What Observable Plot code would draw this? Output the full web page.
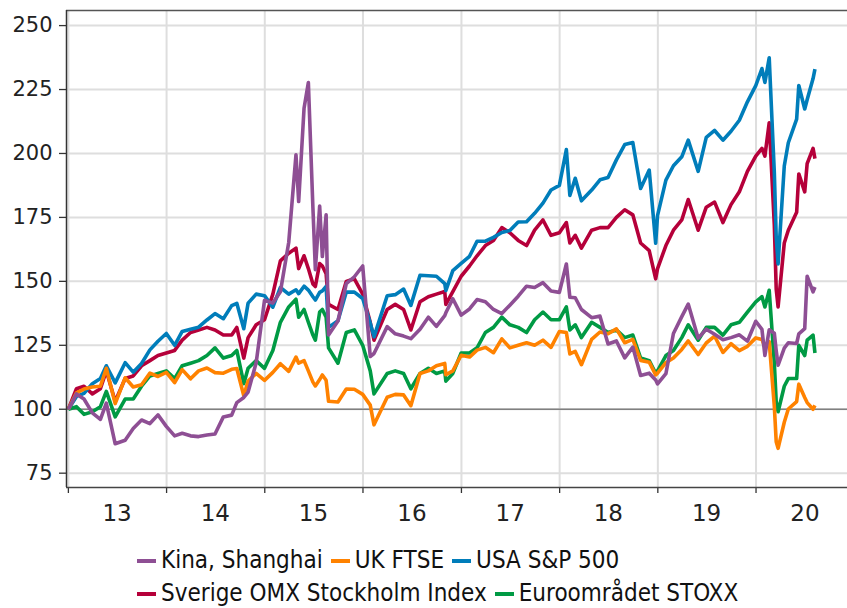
<!DOCTYPE html>
<html><head><meta charset="utf-8">
<script src="https://cdn.jsdelivr.net/npm/d3@7"></script>
<script src="https://cdn.jsdelivr.net/npm/@observablehq/plot@0.6"></script>
<style>
body{margin:0;background:#fff;}
#chart svg{display:block;overflow:visible}
.legend{font-family:"DejaVu Sans Condensed","DejaVu Sans",sans-serif;font-size:24px;line-height:33px;color:#111;padding-left:137px;margin-top:9px}
.row{display:flex;align-items:center;height:33px;white-space:nowrap}
.item{display:flex;align-items:center;margin-right:8px}
.sw{width:19px;height:4px;margin-right:5px}
</style></head><body><div id="chart"></div><div class="legend" id="legend"></div>
<script>
const dates = [
"2013-01-01","2013-01-31","2013-02-28","2013-03-31","2013-04-30","2013-05-22","2013-06-24","2013-07-31","2013-08-30","2013-09-30","2013-10-31","2013-11-30","2013-12-31",
"2014-01-31","2014-02-28","2014-03-31","2014-04-30","2014-05-31","2014-06-30","2014-07-31","2014-08-31","2014-09-19","2014-10-15","2014-10-31","2014-11-30","2014-12-31",
"2015-01-31","2015-02-28","2015-03-31","2015-04-27","2015-05-07","2015-05-27","2015-06-12","2015-06-29","2015-07-08","2015-07-24","2015-08-03","2015-08-17","2015-08-26","2015-09-30","2015-10-31","2015-11-30","2015-12-31",
"2016-01-28","2016-02-11","2016-03-31","2016-04-30","2016-05-31","2016-06-27","2016-07-31","2016-08-31","2016-09-30","2016-10-31","2016-11-04","2016-11-30","2016-12-31",
"2017-01-31","2017-02-28","2017-03-31","2017-04-30","2017-05-31","2017-06-30","2017-07-31","2017-08-31","2017-09-30","2017-10-31","2017-11-30","2017-12-31",
"2018-01-26","2018-02-08","2018-02-28","2018-03-23","2018-04-30","2018-05-31","2018-06-30","2018-07-31","2018-08-31","2018-09-30","2018-10-29","2018-11-30","2018-12-24","2018-12-31",
"2019-01-31","2019-02-28","2019-03-31","2019-04-24","2019-05-31","2019-06-30","2019-07-31","2019-08-31","2019-09-30","2019-10-31","2019-11-30","2019-12-31",
"2020-01-23","2020-02-03","2020-02-19","2020-03-09","2020-03-16","2020-03-23","2020-04-15","2020-04-30","2020-05-31","2020-06-08","2020-06-30","2020-07-09","2020-07-31","2020-08-07"
];
const kina = [
100,106.0,104.0,98.6,96.0,102.4,86.5,87.9,92.5,95.8,94.4,97.8,93.3,
89.6,90.6,89.6,89.3,89.9,90.3,97.0,97.7,102.6,104.6,106.7,118.2,142.6,
141.5,145.9,165.2,199.5,181.2,217.7,227.7,178.6,154.6,179.4,159.7,176.0,129.0,134.5,149.1,151.8,156.0,
120.6,121.8,132.3,129.5,128.6,127.6,131.3,136.0,132.4,136.6,137.7,143.2,136.8,
139.2,142.9,142.0,139.0,137.4,140.7,144.2,148.1,147.6,149.5,146.2,145.7,
156.8,143.8,143.6,139.0,135.8,136.4,125.5,126.7,120.1,124.3,113.2,114.1,111.4,109.9,
113.9,129.6,136.2,141.1,127.8,131.3,129.3,127.2,128.0,129.1,126.6,134.4,
131.2,121.0,131.1,129.7,122.9,117.2,123.9,126.0,125.7,129.5,131.5,152.0,145.9,147.8
];
const uk = [
100,106.4,107.9,108.7,109.0,116.0,102.2,112.3,108.7,109.6,114.1,112.8,114.4,
110.4,115.5,111.9,115.0,116.1,114.3,114.1,115.6,115.9,105.3,111.0,114.0,111.3,
114.4,117.8,114.8,120.4,118.0,119.0,115.0,110.6,109.1,111.6,113.4,111.3,103.1,102.8,107.9,107.8,105.8,
101.6,93.9,104.7,105.8,105.6,101.4,114.0,115.0,117.0,117.9,113.5,115.0,121.1,
120.4,123.1,124.2,122.1,127.5,124.0,125.0,126.0,125.0,127.0,124.2,130.4,
130.0,121.6,122.6,117.4,127.3,130.2,129.5,131.4,126.0,127.3,119.1,118.4,113.4,114.1,
118.2,120.0,123.4,126.7,121.4,125.9,128.6,122.2,125.6,122.9,124.6,127.9,
127.3,124.2,126.4,101.1,87.3,84.7,94.9,100.1,103.0,109.8,104.6,102.6,100.0,101.5
];
const usa = [
100,105.0,106.2,110.0,112.0,117.0,110.3,118.2,114.5,117.9,123.2,126.6,129.6,
125.0,130.4,131.3,132.1,134.9,137.4,135.4,140.5,141.4,131.5,141.5,145.0,144.4,
139.9,147.6,145.0,146.7,145.2,148.1,146.6,144.0,142.7,145.7,146.3,148.0,132.0,134.6,145.8,145.8,143.3,
133.7,128.3,144.4,144.8,147.0,140.6,152.4,152.2,152.0,149.1,146.4,154.2,157.0,
159.8,165.7,165.7,167.2,169.1,169.9,173.2,173.3,176.6,180.6,185.7,187.5,
201.5,183.6,190.3,181.5,185.7,189.7,190.6,197.5,203.5,204.3,186.3,193.5,164.9,175.8,
189.6,195.2,198.7,205.2,193.0,206.3,209.0,205.2,208.7,213.0,220.2,226.5,
233.2,227.8,237.4,192.5,167.3,156.8,195.1,204.2,213.4,226.6,217.4,221.0,229.3,233.0
];
const sverige = [
100,108,109,106,108,115,103,112,113,117,119,121,122,
123,127,130,131,132,131,129,129,132,120,128,133,135,
145,158,161,163,155,160,155,149,148,157,156,153,141,139,150,151,145,
134,127,139,141,139,131,142,144,145,146,141,146,152,
156,160,164,166,171,169,166,164,170,174,168,169,
173,165,168,163,170,171,171,175,178,176,165,162,151,155,
164,170,174,182,170,179,181,173,180,185,193,199,
202,199,212,172,147,140,165,170,177,192,185,196,202,198
];
const euro = [
100,101,98,99,101,107,97,104,104,109,113,114,115,
112,117,118,119,121,124,120,121,123,110,116,119,116,
123,134,140,143,136,139,134,129,127,138,139,136,124,118,130,131,125,
115,106,114,115,114,108,114,116,114,115,111,114,122,
122,124,130,132,136,133,132,130,135,138,135,135,
140,131,133,128,134,132,130,131,128,129,120,119,114,115,
121,123,128,133,127,132,132,129,133,134,138,142,
144,140,146.5,118,103,99,109,112,112,125,121,127,129,122
];
const seriesNames = ["Kina, Shanghai","UK FTSE","USA S&P 500","Sverige OMX Stockholm Index","Euroområdet STOXX"];
const seriesColors = ["#8e4f94","#ff8200","#007dba","#b5003a","#009a44"];
const seriesValues = [kina, uk, usa, sverige, euro];
const drawOrder = [3, 4, 2, 1, 0];
const yTicks = [75,100,125,150,175,200,225,250];
const xYears = [2013,2014,2015,2016,2017,2018,2019,2020];

const yearStarts = xYears.map(y => new Date(Date.UTC(y,0,1)));
const midYears = xYears.map(y => new Date(Date.UTC(y,6,1)));
const xDomain = [new Date(Date.UTC(2012,11,25)), new Date(Date.UTC(2020,11,6))];
const yDomain = [69.4, 255.9];

const rows = drawOrder.flatMap(k => seriesValues[k].map((v,i) => ({date: new Date(dates[i]), value: v, name: seriesNames[k]})));

const chart = Plot.plot({
  width: 847, height: 535,
  marginTop: 10, marginBottom: 48, marginLeft: 66, marginRight: 0,
  style: {fontFamily: "'DejaVu Sans', sans-serif", color: "#222", background: "#fff"},
  x: {type: "utc", domain: xDomain, label: null},
  y: {domain: yDomain, label: null},
  color: {domain: seriesNames, range: seriesColors},
  marks: [
    Plot.gridY(yTicks, {stroke: "#dedede", strokeOpacity: 1, strokeWidth: 2}),
    Plot.gridX(yearStarts, {stroke: "#dedede", strokeOpacity: 1, strokeWidth: 2}),
    Plot.ruleY([100], {stroke: "#808080", strokeWidth: 1.4}),
    Plot.lineY(rows, {x: "date", y: "value", z: "name", stroke: "name", strokeWidth: 3.6, strokeLinejoin: "round", strokeLinecap: "butt", sort: null}),
    Plot.axisY(yTicks, {anchor: "left", label: null, tickSize: 7, tickPadding: 7, fontSize: 21, stroke: "#333", strokeWidth: 1.3, tickFormat: d => String(d)}),
    Plot.axisX(yearStarts, {anchor: "bottom", label: null, tickSize: 6, stroke: "#333", strokeWidth: 1.3, tickFormat: () => ""}),
    Plot.axisX(midYears, {anchor: "bottom", label: null, tickSize: 0, tickPadding: 17, fontSize: 23, tickFormat: d => String(d.getUTCFullYear()).slice(2)}),
    Plot.ruleY([yDomain[1]], {stroke: "#555", strokeWidth: 1.5}),
    Plot.ruleY([yDomain[0]], {stroke: "#444", strokeWidth: 1.5}),
    Plot.ruleX([xDomain[0]], {stroke: "#333", strokeWidth: 1.5})
  ]
});
document.getElementById("chart").appendChild(chart);

const legend = document.getElementById("legend");
const legendRows = [[0,1,2],[3,4]];
legendRows.forEach(r => {
  const row = document.createElement("div");
  row.className = "row";
  r.forEach(k => {
    const it = document.createElement("div");
    it.className = "item";
    const sw = document.createElement("span");
    sw.className = "sw";
    sw.style.background = seriesColors[k];
    const tx = document.createElement("span");
    tx.textContent = seriesNames[k];
    it.appendChild(sw); it.appendChild(tx);
    row.appendChild(it);
  });
  legend.appendChild(row);
});
</script>
</body></html>
